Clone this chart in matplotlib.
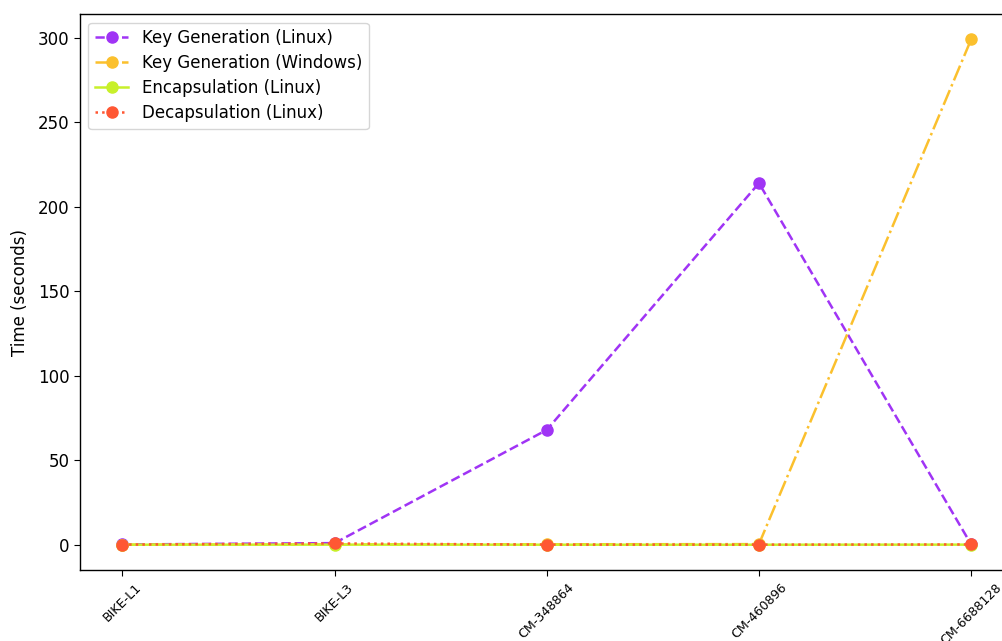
import matplotlib
matplotlib.use("Agg")
import matplotlib.pyplot as plt

# algorithms on the x axis
algorithms = ["BIKE-L1", "BIKE-L3", "CM-348864", "CM-460896", "CM-6688128"]

# timings in seconds
keygen_linux = [0.2, 1.0, 68.0, 214.0, 0.3]
keygen_windows = [0.1, 0.2, 0.3, 0.4, 299.0]
encaps_linux = [0.05, 0.1, 0.05, 0.05, 0.1]
decaps_linux = [0.1, 0.8, 0.1, 0.1, 0.2]

plt.rcParams.update({
    "font.size": 12,
    "lines.linewidth": 1.8,
    "xtick.major.size": 4.2,
    "ytick.major.size": 4.2,
    "axes.linewidth": 1.0,
})

fig = plt.figure(figsize=(10.03, 6.41), dpi=100)
# axes run past the right edge, as in the reference
ax = fig.add_axes([0.0798, 0.1108, 0.9307, 0.867])

ms = 8
ax.plot(algorithms, keygen_linux, "o--", color="#a034f5", markersize=ms,
        label="Key Generation (Linux)")
ax.plot(algorithms, keygen_windows, "o-.", color="#fbc02d", markersize=ms,
        label="Key Generation (Windows)")
ax.plot(algorithms, encaps_linux, "o-", color="#c8f02a", markersize=ms,
        label="Encapsulation (Linux)")
ax.plot(algorithms, decaps_linux, "o:", color="#ff5733", markersize=ms,
        label="Decapsulation (Linux)")

ax.set_ylabel("Time (seconds)", labelpad=6)
plt.setp(ax.get_xticklabels(), rotation=45, fontsize=9.1)
ax.legend(loc="upper left", labelspacing=0.42)

fig.savefig("out.png", dpi=100)
